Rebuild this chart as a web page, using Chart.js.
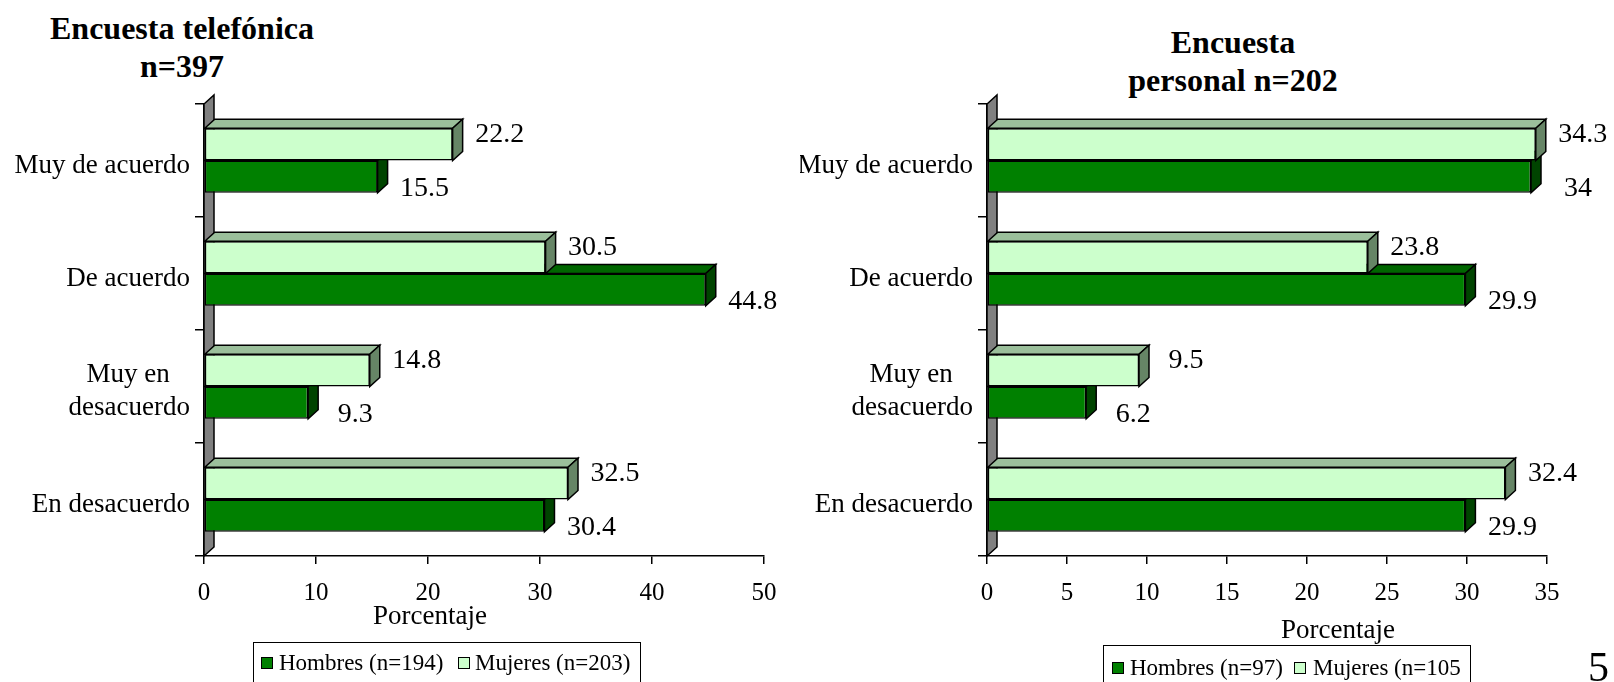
<!DOCTYPE html>
<html>
<head>
<meta charset="utf-8">
<script src="https://cdn.jsdelivr.net/npm/chart.js@4.4.0/dist/chart.umd.min.js"></script>
<style>
  html, body { margin: 0; padding: 0; background: #fff; }
  body { width: 1614px; height: 682px; position: relative; overflow: hidden;
         font-family: 'Liberation Serif', 'Times New Roman', serif; color: #000; }
  canvas { position: absolute; top: 0; }
  .title { position: absolute; width: 400px; text-align: center; font-weight: bold;
           font-size: 32px; line-height: 38px; }
  .axis-title { position: absolute; width: 200px; text-align: center; font-size: 27px; line-height: 30px; }
  .legend { position: absolute; border: 1.5px solid #000; height: 60px; font-size: 23px; line-height: 26px; }
  .legend span { position: absolute; white-space: nowrap; }
  .legend i { position: absolute; width: 10px; height: 10px; border: 1.5px solid #000; }
  .page { position: absolute; left: 1588px; top: 646px; font-size: 42px; line-height: 42px; }
</style>
</head>
<body>
<div class="title" style="left:-18px; top:9px;">Encuesta telefónica<br>n=397</div>
<div class="title" style="left:1033px; top:23px;">Encuesta<br>personal n=202</div>

<canvas id="telChart" width="800" height="682" style="left:0"></canvas>
<canvas id="perChart" width="814" height="682" style="left:800px"></canvas>

<div class="axis-title" style="left:330px; top:600px;">Porcentaje</div>
<div class="axis-title" style="left:1238px; top:614px;">Porcentaje</div>

<div class="legend" style="left:253px; top:642px; width:386px;">
  <i style="left:7px; top:14px; background:#008000"></i><span style="left:25px; top:7px;">Hombres (n=194)</span>
  <i style="left:204px; top:14px; background:#ccffcc"></i><span style="left:221px; top:7px;">Mujeres (n=203)</span>
</div>
<div class="legend" style="left:1103px; top:645px; width:366px;">
  <i style="left:8px; top:16px; background:#008000"></i><span style="left:26px; top:9px;">Hombres (n=97)</span>
  <i style="left:190px; top:16px; background:#ccffcc"></i><span style="left:209px; top:9px;">Mujeres (n=105</span>
</div>
<div class="page">5</div>

<script>
// datos
const categorias = ['Muy de acuerdo', 'De acuerdo', ['Muy en\u00a0\u00a0\u00a0', 'desacuerdo'], 'En desacuerdo'];
const telHombres = [15.5, 44.8, 9.3, 30.4];
const telMujeres = [22.2, 30.5, 14.8, 32.5];
const perHombres = [34, 29.9, 6.2, 29.9];
const perMujeres = [34.3, 23.8, 9.5, 32.4];
const telEje = { max: 50, step: 10 };
const perEje = { max: 35, step: 5 };

Chart.defaults.font.family = "'Liberation Serif', 'Times New Roman', serif";
Chart.defaults.color = '#000';

// profundidad del efecto 3D
const DX = 10, DY = -9;
const caras = [
    { top: '#9bbf9b', side: '#668566' },   // Mujeres
    { top: '#006600', side: '#004400' }    // Hombres
];

function poly(ctx, pts, fill) {
    ctx.beginPath();
    ctx.moveTo(pts[0][0], pts[0][1]);
    for (let i = 1; i < pts.length; i++) ctx.lineTo(pts[i][0], pts[i][1]);
    ctx.closePath();
    ctx.fillStyle = fill;
    ctx.fill();
    ctx.stroke();
}

const barras3d = {
    id: 'barras3d',
    beforeDatasetsDraw(chart) {
        const { ctx, chartArea: a } = chart;
        ctx.save();
        ctx.strokeStyle = '#000';
        ctx.lineWidth = 1.5;
        poly(ctx, [[a.left, a.bottom], [a.left + DX, a.bottom + DY], [a.left + DX, a.top + DY], [a.left, a.top]], '#808080');
        ctx.restore();
    },
    afterDatasetDraw(chart, args) {
        const ctx = chart.ctx;
        const c = caras[args.index];
        ctx.save();
        ctx.strokeStyle = '#000';
        ctx.lineWidth = 1.5;
        args.meta.data.forEach(el => {
            const { x, y, base, height } = el.getProps(['x', 'y', 'base', 'height'], true);
            const t = y - height / 2, b = y + height / 2;
            poly(ctx, [[base, t], [base + DX, t + DY], [x + DX, t + DY], [x, t]], c.top);
            poly(ctx, [[x, t], [x + DX, t + DY], [x + DX, b + DY], [x, b]], c.side);
        });
        ctx.restore();
    },
    afterDatasetsDraw(chart) {
        const ctx = chart.ctx;
        ctx.save();
        ctx.font = "28px 'Liberation Serif', 'Times New Roman', serif";
        ctx.fillStyle = '#000';
        ctx.textAlign = 'center';
        ctx.textBaseline = 'middle';
        chart.data.datasets.forEach((ds, i) => {
            chart.getDatasetMeta(i).data.forEach((el, j) => {
                const { x, y } = el.getProps(['x', 'y'], true);
                ctx.fillText(String(ds.data[j]), x + DX + 37, y + (i === 0 ? -10 : 12));
            });
        });
        ctx.restore();
    }
};

function drawChart(id, hombres, mujeres, eje, yWidth, padRight) {
    const ctx = document.getElementById(id);
    return new Chart(ctx, {
        type: 'bar',
        data: {
            labels: categorias,
            datasets: [{
                label: 'Mujeres',
                data: mujeres,
                backgroundColor: '#ccffcc',
                borderColor: '#000',
                borderWidth: 1.5,
                borderSkipped: false
            }, {
                label: 'Hombres',
                data: hombres,
                backgroundColor: '#008000',
                borderColor: '#000',
                borderWidth: 1.5,
                borderSkipped: false
            }]
        },
        options: {
            indexAxis: 'y',
            responsive: false,
            animation: false,
            categoryPercentage: 0.57,
            barPercentage: 1.0,
            layout: { padding: { top: 104, right: padRight, bottom: 76, left: 0 } },
            plugins: { legend: { display: false }, tooltip: { enabled: false } },
            scales: {
                x: {
                    min: 0, max: eje.max,
                    ticks: { stepSize: eje.step, font: { size: 25 }, padding: 14 },
                    grid: { drawOnChartArea: false, color: '#000', lineWidth: 1.5, tickLength: 8 },
                    border: { display: true, color: '#000', width: 1.5 },
                    afterFit: s => { s.height = 50; }
                },
                y: {
                    ticks: { font: { size: 27, lineHeight: 1.22 }, padding: 5, labelOffset: 5 },
                    grid: { drawOnChartArea: false, color: '#000', lineWidth: 1.5, tickLength: 9 },
                    border: { display: true, color: '#000', width: 1.5 },
                    afterFit: s => { s.width = yWidth; }
                }
            }
        },
        plugins: [barras3d]
    });
}

drawChart('telChart', telHombres, telMujeres, telEje, 204, 36);
drawChart('perChart', perHombres, perMujeres, perEje, 187, 67);
</script>
</body>
</html>
